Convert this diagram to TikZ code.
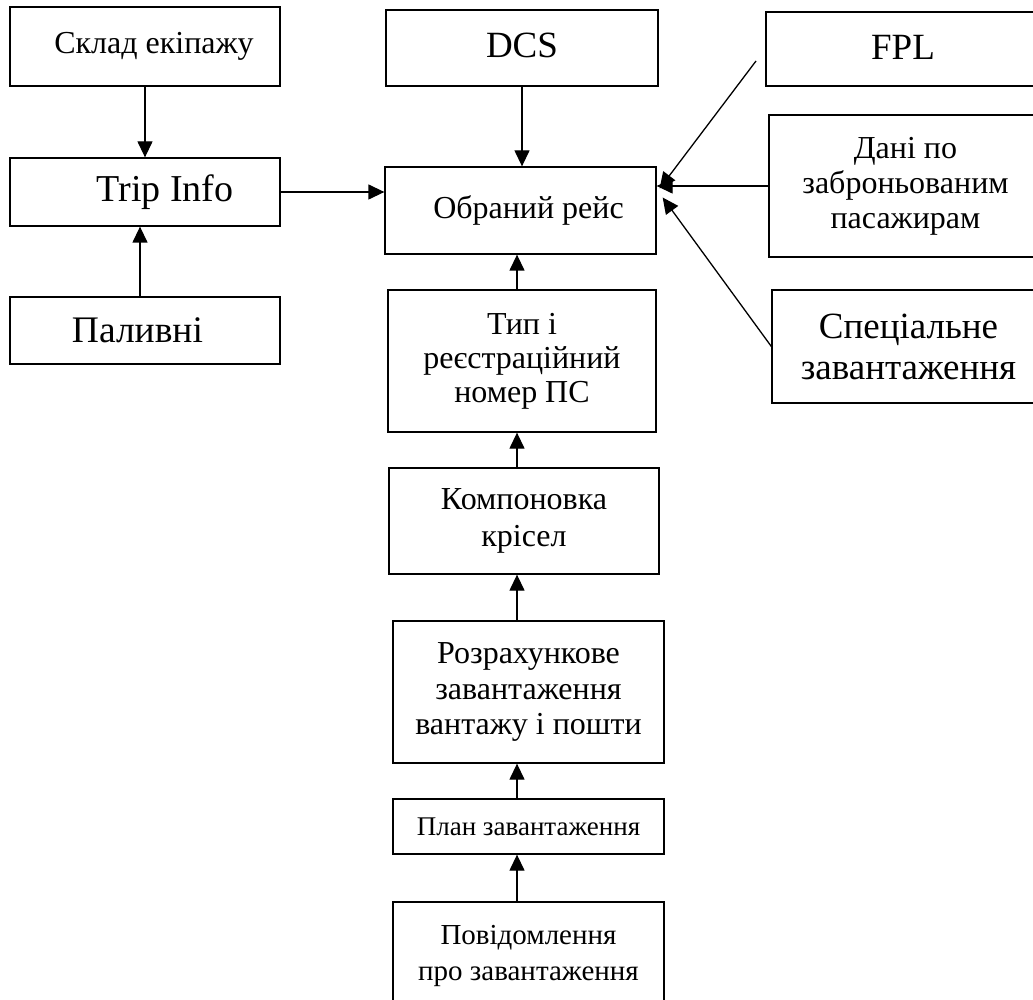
\documentclass[tikz,border=0pt]{standalone}
\usepackage{fontspec}
\setmainfont{Liberation Serif}
\usetikzlibrary{arrows.meta, calc}

\begin{document}
\begin{tikzpicture}[x=0.5pt, y=-0.5pt,
  box/.style={draw, line width=0.65pt, inner sep=0pt, align=center,
    font=\fontsize{16}{17.5}\selectfont},
  link/.style={line width=0.65pt, -{Triangle[length=8pt, width=7.5pt]}}]
  \useasboundingbox (0,0) rectangle (1033,1000);
  \clip (0,0) rectangle (1033,1000);

  % left column
  \node[box, minimum width=135pt, minimum height=39.5pt] (crew) at (145,46.5)
    {\raisebox{3.5pt}{\hspace*{9pt}Склад екіпажу}};
  \node[box, minimum width=135pt, minimum height=34pt,
    font=\fontsize{19}{21}\selectfont] (trip) at (145,192)
    {\hspace*{20pt}Trip Info};
  \node[box, minimum width=135pt, minimum height=33.5pt,
    font=\fontsize{18.75}{21}\selectfont] (fuel) at (145,330.5)
    {Паливні\hspace*{7.5pt}};

  % middle column
  \node[box, minimum width=136pt, minimum height=38pt,
    font=\fontsize{18.5}{21}\selectfont] (dcs) at (522,48)
    {\raisebox{2.75pt}{DCS}};
  \node[box, minimum width=135.5pt, minimum height=43.5pt] (flight) at (520.5,210.5)
    {\raisebox{3pt}{\hspace*{8pt}Обраний рейс}};
  \node[box, minimum width=134pt, minimum height=71pt,
    font=\fontsize{16}{17}\selectfont] (type) at (522,361)
    {Тип і\\реєстраційний\\номер ПС};
  \node[box, minimum width=135pt, minimum height=53pt,
    font=\fontsize{16}{18.5}\selectfont] (seats) at (524,521)
    {Компоновка\\крісел};
  \node[box, minimum width=135.5pt, minimum height=71pt,
    font=\fontsize{16}{17.75}\selectfont] (cargo) at (528.5,692)
    {Розрахункове\\завантаження\\вантажу і пошти};
  \node[box, minimum width=135.5pt, minimum height=27.5pt,
    font=\fontsize{13.5}{15}\selectfont] (plan) at (528.5,826.5)
    {План завантаження};
  \node[box, minimum width=135.5pt, minimum height=53pt,
    font=\fontsize{14.5}{18}\selectfont] (msg) at (528.5,955)
    {\raisebox{2.5pt}{\begin{tabular}{@{}c@{}}Повідомлення\\про завантаження\end{tabular}}};

  % right column
  \node[box, minimum width=137pt, minimum height=37pt,
    font=\fontsize{18.5}{21}\selectfont] (fpl) at (903,49)
    {\raisebox{1.75pt}{FPL}};
  \node[box, minimum width=136.5pt, minimum height=71pt] (pax) at (905.5,186)
    {Дані по\\заброньованим\\пасажирам};
  \node[box, minimum width=136.5pt, minimum height=56.5pt,
    font=\fontsize{18.5}{20.5}\selectfont] (spec) at (908.5,346.5)
    {Спеціальне\\завантаження};

  \coordinate (spine) at (517,0);
  \coordinate (fplend) at (756,61);

  % connectors
  \draw[link] (crew.south) -- (trip.north);
  \draw[link] ([xshift=-2.5pt]fuel.north) -- ([xshift=-2.5pt]trip.south);
  \draw[link] (trip.east) -- (trip.east -| flight.west);
  \draw[link] (dcs.south) -- (dcs.south |- flight.north);
  \draw[link] (spine |- type.north) -- (spine |- flight.south);
  \draw[link] (spine |- seats.north) -- (spine |- type.south);
  \draw[link] (spine |- cargo.north) -- (spine |- seats.south);
  \draw[link] (spine |- plan.north) -- (spine |- cargo.south);
  \draw[link] (spine |- msg.north) -- (spine |- plan.south);
  \draw[link] (fplend) -- ([xshift=1.5pt, yshift=11pt]flight.east);
  \draw[link] (pax.west) -- (pax.west -| flight.east);
  \draw[link] (spec.west) -- ([xshift=3pt, yshift=6.5pt]flight.east);
\end{tikzpicture}
\end{document}
